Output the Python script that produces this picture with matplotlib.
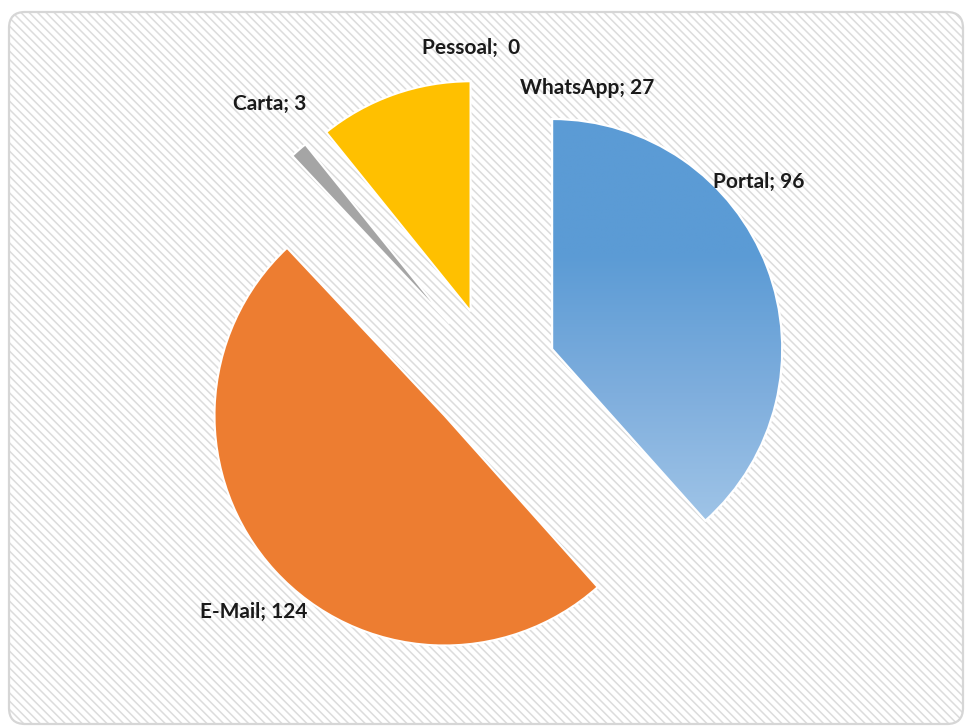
import matplotlib

matplotlib.use("Agg")
import matplotlib.pyplot as plt  # noqa: E402
import numpy as np  # noqa: E402
from matplotlib.colors import LinearSegmentedColormap  # noqa: E402
from matplotlib.patches import FancyBboxPatch, Wedge  # noqa: E402

# data, in the order the slices are drawn (clockwise from 12 o'clock)
categories = ["Portal", "E-Mail", "Carta", "WhatsApp", "Pessoal"]
values = [96, 124, 3, 27, 0]
label_texts = ["Portal; 96", "E-Mail; 124", "Carta; 3", "WhatsApp; 27", "Pessoal;  0"]

colors = ["#5B9BD5", "#ED7D31", "#A5A5A5", "#FFC000", "#4472C4"]

# layout (pixels, origin bottom-left)
W, H = 966, 726
CENTER = (492, H - 372)
RADIUS = 230
EXPLODE = 0.28 * RADIUS  # pie() offsets in data units, not radius fractions
LABEL_POS = [(759, H - 182), (254, H - 612), (270, H - 104), (587, H - 88), (471, H - 48)]

plt.rcParams["hatch.linewidth"] = 1.1
plt.rcParams["font.family"] = ["Lato", "DejaVu Sans"]

fig = plt.figure(figsize=(W / 100, H / 100), dpi=100)
ax = fig.add_axes([0, 0, 1, 1])

# striped chart-area background with rounded border
bg = FancyBboxPatch(
    (9, 2), 954, 712,
    boxstyle="round,pad=0,rounding_size=16",
    facecolor="white", edgecolor="#dcdcdc", hatch="\\" * 4, lw=0, zorder=0,
)
ax.add_patch(bg)
ax.add_patch(FancyBboxPatch(
    (9, 2), 954, 712,
    boxstyle="round,pad=0,rounding_size=16",
    fill=False, edgecolor="#d6d6d6", lw=1.6, zorder=1,
))

wedges, _ = ax.pie(
    values,
    colors=colors,
    startangle=90,
    counterclock=False,
    radius=RADIUS,
    center=CENTER,
    explode=[EXPLODE] * len(values),
    wedgeprops=dict(edgecolor="white", linewidth=1.5),
    frame=True,
)
for w, v in zip(wedges, values):
    w.set_zorder(2)
    if v == 0:
        w.set_visible(False)

# vertical gradient on the Portal slice
portal = wedges[0]
x0, y0 = portal.center[0] - 5, portal.center[1] - RADIUS * 0.8
x1, y1 = portal.center[0] + RADIUS + 5, portal.center[1] + RADIUS + 5
grad = LinearSegmentedColormap.from_list("portal", ["#A2C6E8", "#7FAEDD", "#5B9BD5", "#5B9BD5"])
img = ax.imshow(
    np.linspace(0, 1, 256).reshape(-1, 1),
    cmap=grad, origin="lower", aspect="auto",
    extent=(x0, x1, y0, y1), zorder=3,
)
img.set_clip_path(portal)
ax.add_patch(
    Wedge(portal.center, portal.r, portal.theta1, portal.theta2,
          fill=False, edgecolor="white", lw=1.5, zorder=4)
)

for txt, (lx, ly) in zip(label_texts, LABEL_POS):
    ax.text(lx, ly, txt, ha="center", va="center", fontsize=15,
            fontweight="bold", color="#1a1a1a", zorder=5)

ax.set_xlim(0, W)
ax.set_ylim(0, H)
ax.set_aspect("equal")
ax.axis("off")

plt.savefig("out.png", dpi=100)
plt.close()
